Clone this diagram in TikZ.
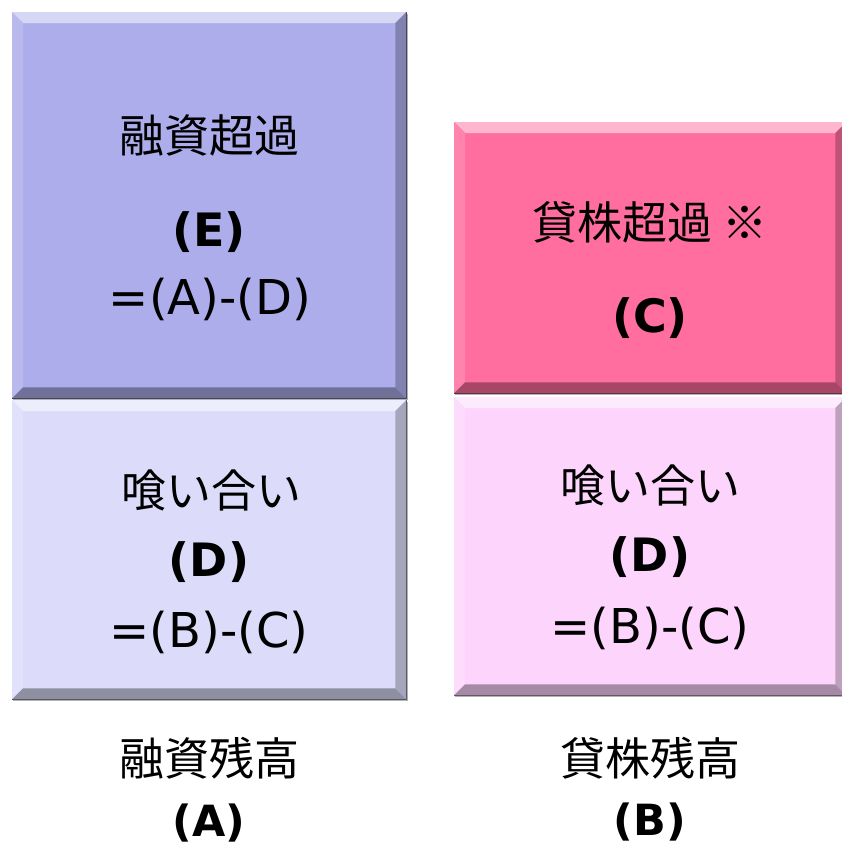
\documentclass[tikz,border=0pt]{standalone}
\usepackage{fontspec}
\setmainfont{DejaVu Sans}
\newfontfamily\jp{Noto Sans CJK JP}
\definecolor{eblue}{HTML}{ADADEB}
\definecolor{dblue}{HTML}{DCDCFA}
\definecolor{cpink}{HTML}{FF6E9E}
\definecolor{dpink}{HTML}{FDD5FC}
\tikzset{
  box/.style={draw=none, rectangle, anchor=north west, inner sep=0pt},
  jptext/.style={font=\jp\fontsize{45}{54}\selectfont, inner sep=0pt},
  bold/.style={font=\bfseries\fontsize{46}{54}\selectfont, inner sep=0pt},
  boldlabel/.style={font=\bfseries\fontsize{43}{50}\selectfont, inner sep=0pt},
  formula/.style={font=\fontsize{48}{56}\selectfont, inner sep=0pt},
}
\newcommand\bevelbox[2]{%
  \fill[black, opacity=0.3] ([xshift=1pt,yshift=-2pt]#1.north west) rectangle ([xshift=2pt,yshift=-2pt]#1.south east);
  \fill[#2] (#1.north west) rectangle (#1.south east);
  \fill[#2!50!white] (#1.north west) -- (#1.north east) -- ([xshift=-11pt,yshift=-11pt]#1.north east) -- ([xshift=11pt,yshift=-11pt]#1.north west) -- cycle;
  \fill[#2!85!white] (#1.north west) -- ([xshift=11pt,yshift=-11pt]#1.north west) -- ([xshift=11pt,yshift=11pt]#1.south west) -- (#1.south west) -- cycle;
  \fill[#2!75!black] (#1.north east) -- ([xshift=-11pt,yshift=-11pt]#1.north east) -- ([xshift=-11pt,yshift=11pt]#1.south east) -- (#1.south east) -- cycle;
  \fill[#2!65!black] (#1.south west) -- ([xshift=11pt,yshift=11pt]#1.south west) -- ([xshift=-11pt,yshift=11pt]#1.south east) -- (#1.south east) -- cycle;
  \draw[#2!40!black, line width=1pt] (#1.north east) -- (#1.south east) -- (#1.south west);
}
\begin{document}
\begin{tikzpicture}[x=1pt, y=-1pt]
  \useasboundingbox[fill=white] (0,0) rectangle (841,849);
  \node[box, minimum width=394pt, minimum height=386pt] (E) at (12,12) {};
  \node[box, minimum width=394pt, minimum height=299pt] (DL) at (12,400) {};
  \node[box, minimum width=392pt, minimum height=271pt] (C) at (454,122) {};
  \node[box, minimum width=392pt, minimum height=298pt] (DR) at (454,397) {};
  \bevelbox{E}{eblue}
  \bevelbox{DL}{dblue}
  \bevelbox{C}{cpink}
  \bevelbox{DR}{dpink}
  % left upper
  \node[jptext] (e1) at (209,135) {融資超過};
  \node[bold] (e2) at (209,232) {(E)};
  \node[formula] (e3) at (210,299) {=(A)-(D)};
  % right upper
  \node[jptext] (c1) at (650,222) {貸株超過 ※};
  \node[bold] (c2) at (650,318) {(C)};
  % lower left
  \node[jptext] (dl1) at (211,490) {喰い合い};
  \node[bold] (dl2) at (209,562) {(D)};
  \node[formula] (dl3) at (209,632) {=(B)-(C)};
  % lower right
  \node[jptext] (dr1) at (650,485) {喰い合い};
  \node[bold] (dr2) at (650,557) {(D)};
  \node[formula] (dr3) at (650,628) {=(B)-(C)};
  % bottom labels
  \node[jptext] (a1) at (209,758) {融資残高};
  \node[boldlabel] (a2) at (209,823) {(A)};
  \node[jptext] (b1) at (650,758) {貸株残高};
  \node[boldlabel] (b2) at (650,822) {(B)};
\end{tikzpicture}
\end{document}
